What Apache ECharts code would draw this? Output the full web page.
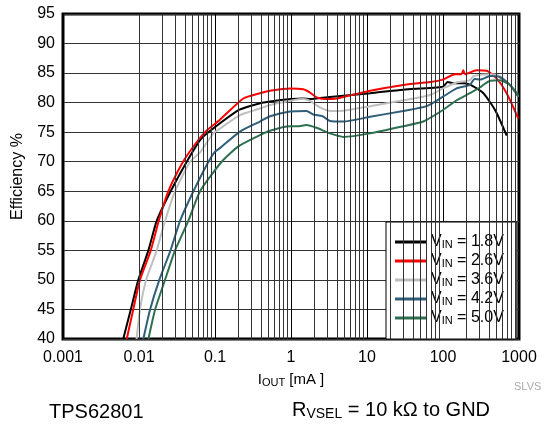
<!DOCTYPE html>
<html>
<head>
<meta charset="utf-8">
<script src="https://cdn.jsdelivr.net/npm/echarts@6/dist/echarts.min.js"></script>
<style>
  html, body { margin: 0; padding: 0; background: #fff; }
  #chart { width: 546px; height: 428px; }
</style>
</head>
<body>
<div id="chart"></div>
<script>
// efficiency curves, [I_OUT mA, efficiency %]
const vin18 = [[0.0062,40],[0.0078,45],[0.0098,50],[0.0133,55],[0.0171,60],[0.0261,65],[0.0425,70],[0.064,73.7],[0.09,75.4],[0.21,78.8],[0.39,79.9],[0.53,80.2],[1.0,80.6],[1.44,80.7],[1.78,80.6],[3,80.9],[11,81.6],[30,82.2],[100,82.7],[115,83.5],[135,83.3],[190,83.3],[230,83.0],[340,81.6],[430,79.8],[510,78.2],[690,74.4]];
const vin26 = [[0.0069,40],[0.0084,45],[0.0103,50],[0.0143,55],[0.0182,60],[0.0243,65],[0.038,70],[0.055,73],[0.075,75.1],[0.116,77.1],[0.236,80.7],[0.39,81.6],[0.53,82.0],[0.97,82.4],[1.45,82.25],[1.78,81.7],[2.18,80.9],[2.95,80.6],[4.0,80.7],[11,82.0],[30,83.0],[68,83.5],[100,83.9],[144,84.8],[175,84.8],[185,85.5],[195,84.8],[275,85.5],[376,85.4],[508,84.1],[688,81.6],[980,77.3]];
const vin36 = [[0.0093,40],[0.0103,45],[0.0124,50],[0.0171,55],[0.022,60],[0.0298,65],[0.047,70],[0.0636,71.6],[0.095,74.8],[0.11,75.4],[0.213,77.9],[0.39,79.0],[0.53,79.6],[1.45,80.6],[1.78,80.3],[2.4,79.2],[3.26,78.6],[4.4,78.6],[11,79.4],[30,80.4],[68,81.3],[100,82.4],[151,83.4],[226,83.8],[251,84.5],[309,84.7],[417,84.8],[562,84.5],[760,83.0],[980,81.0]];
const vin42 = [[0.0114,40],[0.014,45],[0.0185,50],[0.026,55],[0.0347,60],[0.052,65],[0.082,70],[0.1,71.7],[0.116,72.3],[0.213,75.1],[0.39,76.8],[0.53,77.7],[0.97,78.5],[1.6,78.6],[1.95,78.0],[2.6,77.7],[3.26,76.9],[4.9,76.8],[11,77.6],[30,78.6],[61,79.4],[100,81.0],[151,82.4],[226,83.0],[260,84.0],[309,83.9],[417,84.5],[562,84.3],[760,83.0],[980,81.0]];
const vin50 = [[0.0133,40],[0.0163,45],[0.022,50],[0.0298,55],[0.0446,60],[0.0636,65],[0.1225,70],[0.203,72.6],[0.39,74.5],[0.53,75.25],[0.97,76.0],[1.2,76.0],[1.6,76.2],[2.2,75.7],[3.26,74.8],[4.9,74.2],[11,74.8],[30,76.0],[55,76.8],[100,78.75],[151,80.4],[226,81.6],[309,82.6],[339,83.0],[417,83.7],[562,83.8],[760,83.0],[980,81.3]];

const vinLabels = ["1.8V", "2.6V", "3.6V", "4.2V", "5.0V"];
const seriesData = [vin18, vin26, vin36, vin42, vin50];
const colors = ["#000000", "#ff0000", "#bfbfbf", "#2f5f7a", "#2e7150"];

const xTickLabels = ["0.001", "0.01", "0.1", "1", "10", "100", "1000"];
const decades = [0.001, 0.01, 0.1, 1, 10, 100];

// log grid lines between decades (2..9)
const minorLines = [];
decades.forEach((d) => {
  for (let k = 2; k <= 9; k++) minorLines.push({ xAxis: k * d });
});

const font = "'Liberation Sans', Arial, sans-serif";
const chart = echarts.init(document.getElementById("chart"));

const series = seriesData.map((data, i) => ({
  name: vinLabels[i],
  type: "line",
  data: data,
  showSymbol: false,
  symbol: "none",
  smooth: 0.2,
  z: 3,
  lineStyle: { color: colors[i], width: 2 },
  itemStyle: { color: colors[i] },
}));

series.unshift({
  name: "grid",
  type: "line",
  data: [[0.001, 40]],
  symbol: "none",
  lineStyle: { opacity: 0 },
  silent: true,
  z: 1,
  markLine: {
    silent: true,
    symbol: "none",
    label: { show: false },
    animation: false,
    lineStyle: { color: "#333", width: 1, type: "solid" },
    data: minorLines,
  },
});

const option = {
  animation: false,
  textStyle: { fontFamily: font },
  grid: {
    left: 63,
    right: 27,
    top: 14,
    bottom: 89,
    show: true,
    borderColor: "#000",
    borderWidth: 3,
  },
  xAxis: {
    type: "log",
    logBase: 10,
    min: 0.001,
    max: 1000,
    axisLine: { show: false },
    axisTick: { show: false },
    splitLine: { show: true, lineStyle: { color: "#000", width: 1 } },
    axisLabel: {
      color: "#000",
      fontSize: 16,
      fontFamily: font,
      margin: 11,
      formatter: (v) => xTickLabels[Math.round(Math.log10(v)) + 3],
    },
    name: "{i|I}{s|OUT}{i| [mA ]}",
    nameLocation: "middle",
    nameGap: 32,
    nameTextStyle: {
      rich: {
        i: { fontSize: 15, color: "#000", fontFamily: font },
        s: { fontSize: 11, color: "#000", fontFamily: font, padding: [6, 0, 0, 0] },
      },
    },
  },
  yAxis: {
    type: "value",
    min: 40,
    max: 95,
    interval: 5,
    axisLine: { show: false },
    axisTick: { show: false },
    splitLine: { show: true, lineStyle: { color: "#333", width: 1 } },
    axisLabel: { color: "#000", fontSize: 16, fontFamily: font, margin: 8 },
    name: "Efficiency %",
    nameLocation: "middle",
    nameGap: 37,
    nameTextStyle: { color: "#000", fontSize: 16, fontFamily: font },
  },
  legend: {
    orient: "vertical",
    left: 386,
    top: 222,
    data: vinLabels,
    icon: "rect",
    itemWidth: 31,
    itemHeight: 3,
    itemGap: 3,
    padding: [12, 13, 13, 9],
    backgroundColor: "#fff",
    borderColor: "#000",
    borderWidth: 1,
    borderRadius: 0,
    selectedMode: false,
    formatter: (name) => `{v|V}{s|IN}{v| = ${name}}`,
    textStyle: {
      rich: {
        v: { fontSize: 16, color: "#000", fontFamily: font, lineHeight: 17 },
        s: { fontSize: 11, color: "#000", fontFamily: font, padding: [5, 0, 0, 0] },
      },
    },
  },
  graphic: [
    {
      type: "text",
      left: 514,
      top: 381,
      style: { text: "SLVS", fill: "#aaa", font: `11px ${font}` },
    },
    {
      type: "text",
      left: 49,
      top: 402,
      style: { text: "TPS62801", fill: "#000", font: `20px ${font}` },
    },
    {
      type: "text",
      left: 292,
      top: 400,
      style: {
        text: "{r|R}{s|VSEL}{r| = 10 kΩ to GND}",
        rich: {
          r: { fontSize: 20, fill: "#000", fontFamily: font },
          s: { fontSize: 14, fill: "#000", fontFamily: font, padding: [8, 0, 0, 0] },
        },
      },
    },
  ],
  series: series,
};

chart.setOption(option);
</script>
</body>
</html>
